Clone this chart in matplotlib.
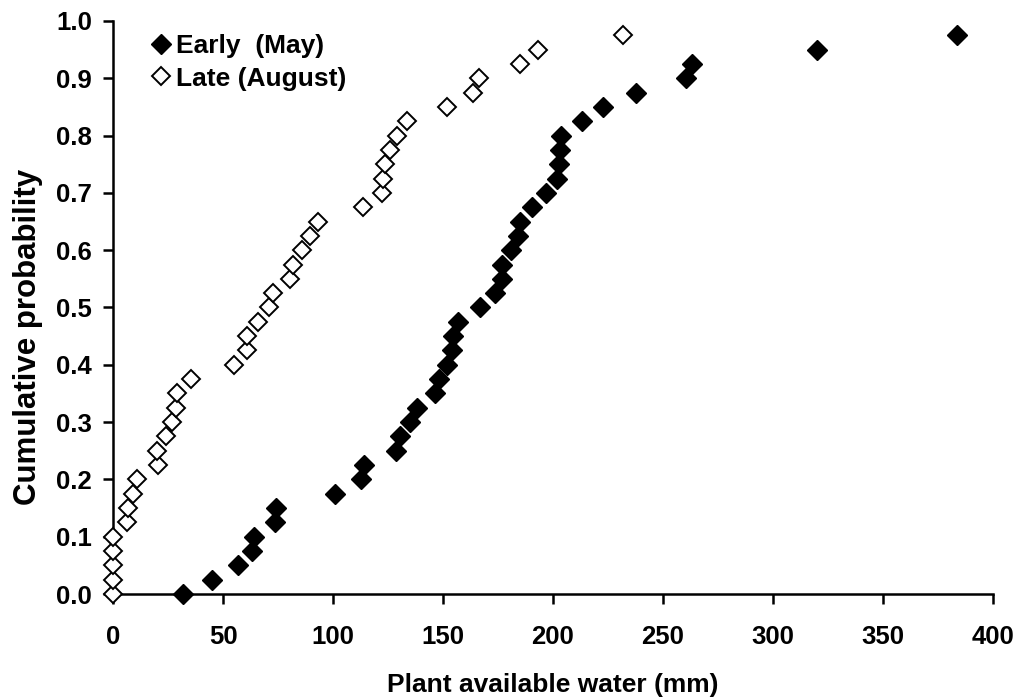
import matplotlib
matplotlib.use("Agg")
import matplotlib.pyplot as plt
import numpy as np

plt.rcParams['font.family'] = ['Liberation Sans', 'DejaVu Sans']
plt.rcParams['font.weight'] = 'bold'

# Cumulative probability levels (shared by both series)
probability = [0.000, 0.025, 0.050, 0.075, 0.100, 0.125, 0.150, 0.175, 0.200, 0.225,
               0.250, 0.275, 0.300, 0.325, 0.350, 0.375, 0.400, 0.425, 0.450, 0.475,
               0.500, 0.525, 0.550, 0.575, 0.600, 0.625, 0.650, 0.675, 0.700, 0.725,
               0.750, 0.775, 0.800, 0.825, 0.850, 0.875, 0.900, 0.925, 0.950, 0.975]

# Plant available water (mm), Early (May)
early_water = [32, 45, 57, 63, 64, 73.5, 74, 101, 112.6, 114,
               128.6, 130.5, 135, 138, 146.4, 148, 151.7, 154, 154.7, 157,
               167, 173.6, 176.7, 176.7, 180.8, 184, 185, 190.6, 197, 202,
               202.7, 203.2, 203.5, 213.3, 222.6, 237.7, 260.3, 263.2, 320.2, 383.8]

# Plant available water (mm), Late (August)
late_water = [0, 0, 0, 0, 0, 6.2, 7, 9.2, 10.8, 20.6,
              19.8, 23.9, 26.7, 28.5, 28.9, 35.3, 55, 60.8, 61.1, 66,
              71, 72.5, 80.5, 82, 85.8, 89.5, 93.3, 113.5, 122.1, 122.6,
              123.6, 125.9, 128.9, 133.5, 152, 163.5, 166.5, 185, 193.3, 231.7]

x_ticks = [0, 50, 100, 150, 200, 250, 300, 350, 400]
y_ticks = [0.0, 0.1, 0.2, 0.3, 0.4, 0.5, 0.6, 0.7, 0.8, 0.9, 1.0]

fig = plt.figure(figsize=(10.22, 7.0), dpi=100)
ax = fig.add_axes([113 / 1022, 1 - 594 / 700, 880 / 1022, 573 / 700])

ax.plot(early_water, probability, linestyle='none', marker='D', markersize=10.3,
        markerfacecolor='black', markeredgecolor='black', markeredgewidth=1.0,
        clip_on=False, zorder=5, label='Early  (May)')
ax.plot(late_water, probability, linestyle='none', marker='D', markersize=9.0,
        markerfacecolor='white', markeredgecolor='black', markeredgewidth=1.4,
        clip_on=False, zorder=6, label='Late (August)')

ax.set_xlim(0, 400)
ax.set_ylim(0, 1.0)
ax.set_xticks(x_ticks)
ax.set_yticks(y_ticks)
ax.set_xticklabels([str(v) for v in x_ticks])
ax.set_yticklabels([f"{v:.1f}" for v in y_ticks])

for side in ['top', 'right']:
    ax.spines[side].set_visible(False)
for side in ['left', 'bottom']:
    ax.spines[side].set_linewidth(1.8)
    ax.spines[side].set_color('black')

ax.tick_params(axis='both', direction='out', length=7, width=1.8, labelsize=18.5)
ax.tick_params(axis='x', pad=15)
ax.tick_params(axis='y', pad=8)
for lab in ax.get_xticklabels() + ax.get_yticklabels():
    lab.set_fontweight('bold')

ax.set_xlabel('Plant available water (mm)', fontsize=19, fontweight='bold')
ax.xaxis.set_label_coords(0.5, (594 - 673) / 573)
ax.set_ylabel('Cumulative probability', fontsize=22.5, fontweight='bold')
ax.yaxis.set_label_coords((43 - 113) / 880, (594 - 337) / 573)

leg = ax.legend(loc='upper left', bbox_to_anchor=(144 / 1022, 1 - 29 / 700),
                bbox_transform=fig.transFigure, frameon=False,
                prop={'weight': 'bold', 'size': 19}, handlelength=0.9,
                handletextpad=0.12, labelspacing=0.32, borderpad=0.2, borderaxespad=0)

fig.savefig('out.png', dpi=100)
